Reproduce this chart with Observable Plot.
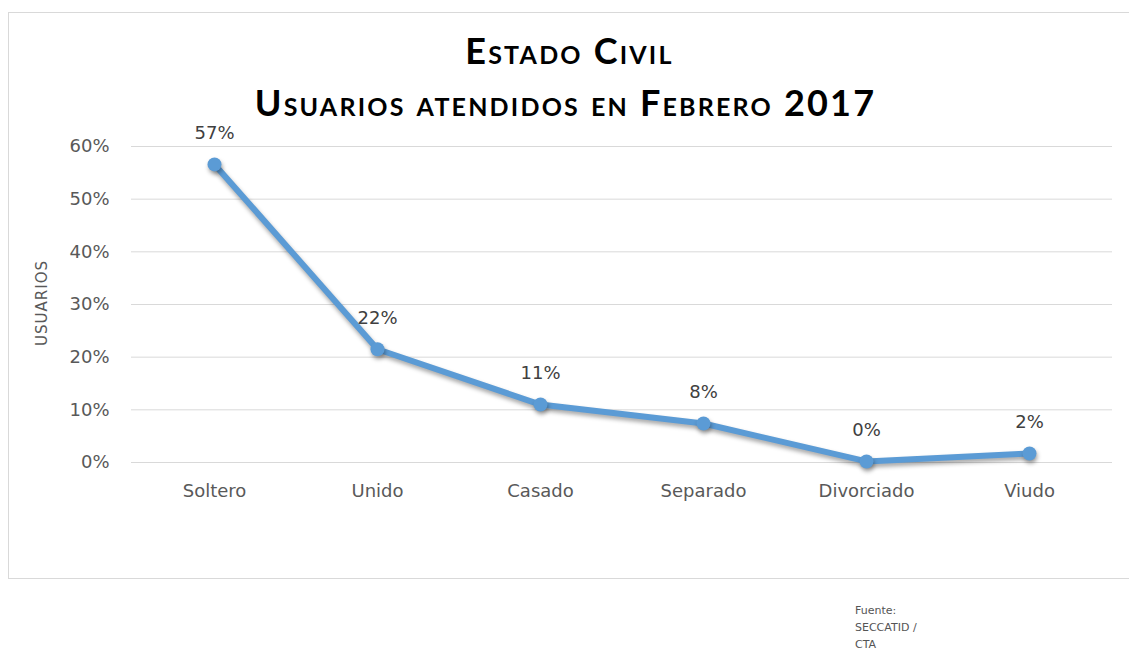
<!DOCTYPE html>
<html>
<head>
<meta charset="utf-8">
<script src="https://cdn.jsdelivr.net/npm/d3@7"></script>
<script src="https://cdn.jsdelivr.net/npm/@observablehq/plot@0.6"></script>
<style>
  html, body { margin: 0; padding: 0; background: #fff; }
  body { width: 1129px; height: 655px; position: relative; overflow: hidden; font-family: "DejaVu Sans", sans-serif; }
  #frame { position: absolute; left: 8px; top: 12px; width: 1130px; height: 567px; border: 1px solid #d9d9d9; box-sizing: border-box; }
  #title { position: absolute; left: 0; width: 1129px; top: 24px; text-align: center; font-family: "Lato", "Roboto", sans-serif; font-weight: bold; font-variant: small-caps; color: #000; line-height: 52px; letter-spacing: 2.2px; }
  #title .l1 { font-size: 36px; margin-left: 10px; }
  #title .l2 { font-size: 36px; margin-left: 2px; }
  #chart { position: absolute; left: 0; top: 0; }
  #chart g[aria-label="line"], #chart g[aria-label="dot"] { filter: drop-shadow(1px 3px 2px rgba(0,0,0,0.35)); }
  #source { position: absolute; left: 855px; top: 602px; font-family: "DejaVu Sans", sans-serif; font-size: 11px; line-height: 17px; color: #555; }
</style>
</head>
<body>
<div id="frame"></div>
<div id="chart"></div>
<div id="title"><div class="l1">Estado Civil</div><div class="l2">Usuarios atendidos en Febrero 2017</div></div>
<div id="source">Fuente:<br>SECCATID /<br>CTA</div>
<script>
const categories = ["Soltero", "Unido", "Casado", "Separado", "Divorciado", "Viudo"];
const values = [0.566, 0.215, 0.11, 0.074, 0.002, 0.017];
const valueLabels = ["57%", "22%", "11%", "8%", "0%", "2%"];
const yTicks = [0, 0.1, 0.2, 0.3, 0.4, 0.5, 0.6];

const data = categories.map((c, i) => ({cat: c, v: values[i], label: valueLabels[i]}));

const plot = Plot.plot({
  width: 1129,
  height: 580,
  marginLeft: 131,
  marginRight: 17,
  marginTop: 146,
  marginBottom: 118,
  style: {fontFamily: "'DejaVu Sans', sans-serif", fontSize: "18px", color: "#595959", background: "transparent"},
  x: {type: "point", domain: categories, padding: 0.5, label: null, tickSize: 0, tickPadding: 22},
  y: {domain: [0, 0.6], ticks: yTicks, tickFormat: d => Math.round(d * 100) + "%", tickSize: 0, tickPadding: 22, label: null},
  marks: [
    Plot.gridY(yTicks, {stroke: "#d9d9d9", strokeOpacity: 1, strokeWidth: 1}),
    Plot.axisY(yTicks, {tickSize: 0, tickPadding: 22, tickFormat: d => Math.round(d * 100) + "%", fill: "#595959", fontSize: 18, label: null}),
    Plot.axisX({tickSize: 0, tickPadding: 22, fill: "#595959", fontSize: 18, label: null}),
    Plot.line(data, {x: "cat", y: "v", stroke: "#5b9bd5", strokeWidth: 6, strokeLinejoin: "round", strokeLinecap: "round"}),
    Plot.dot(data, {x: "cat", y: "v", r: 7, fill: "#5b9bd5", stroke: "none"}),
    Plot.text(data, {x: "cat", y: "v", text: "label", dy: -31, fill: "#404040", fontSize: 18})
  ]
});
document.getElementById("chart").appendChild(plot);

// rotated y-axis title
const svg = d3.select(plot);
svg.append("text")
  .attr("transform", "translate(47,303) rotate(-90)")
  .attr("text-anchor", "middle")
  .attr("fill", "#595959")
  .attr("font-size", 15)
  .attr("letter-spacing", 1)
  .text("USUARIOS");
</script>
</body>
</html>
